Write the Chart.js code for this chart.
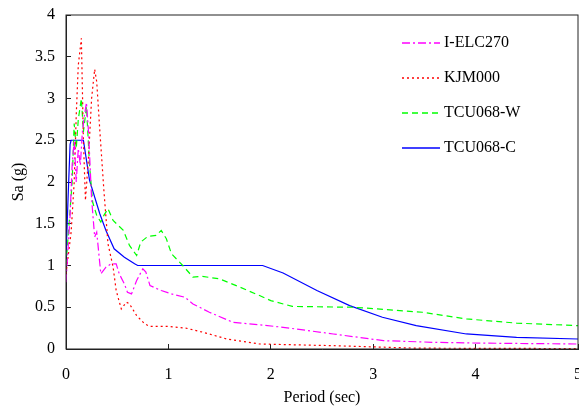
<!DOCTYPE html>
<html>
<head>
<meta charset="utf-8">
<script src="https://cdn.jsdelivr.net/npm/chart.js@4.4.0/dist/chart.umd.min.js"></script>
<style>
  html, body { margin: 0; padding: 0; background: #fff; }
  #wrap { width: 579px; height: 408px; }
</style>
</head>
<body>
<div id="wrap"><canvas id="chart"></canvas></div>
<script>
// Series labels
const seriesNames = ['I-ELC270', 'KJM000', 'TCU068-W', 'TCU068-C'];

// I-ELC270 (period in sec, Sa in g)
const elcT  = [0, 0.02, 0.04, 0.06, 0.08, 0.1, 0.12, 0.14, 0.16, 0.18, 0.2, 0.22, 0.25, 0.28, 0.3, 0.34, 0.39, 0.44, 0.49, 0.52, 0.57, 0.6, 0.64, 0.69, 0.75, 0.78, 0.82, 0.93, 1.03, 1.16, 1.24, 1.4, 1.63, 1.89, 2.12, 2.61, 3.1, 3.59, 4.07, 5];
const elcSa = [0.8, 1.2, 1.6, 2.2, 2.5, 2.0, 2.4, 2.2, 2.6, 2.8, 2.95, 2.6, 1.8, 1.34, 1.4, 0.9, 0.98, 1.02, 1.02, 0.9, 0.78, 0.68, 0.66, 0.82, 0.96, 0.92, 0.76, 0.7, 0.66, 0.62, 0.54, 0.44, 0.32, 0.29, 0.26, 0.18, 0.1, 0.08, 0.07, 0.06];

// KJM000
const kjmT  = [0, 0.03, 0.05, 0.08, 0.1, 0.12, 0.15, 0.17, 0.19, 0.22, 0.25, 0.28, 0.3, 0.33, 0.37, 0.41, 0.46, 0.49, 0.54, 0.59, 0.62, 0.69, 0.77, 0.82, 1.01, 1.17, 1.34, 1.57, 1.89, 2.6, 3.42, 5];
const kjmSa = [0.9, 1.2, 1.4, 2.0, 2.8, 3.4, 3.72, 2.5, 1.78, 2.3, 3.0, 3.35, 3.2, 2.62, 1.9, 1.26, 0.98, 0.7, 0.48, 0.56, 0.54, 0.4, 0.3, 0.27, 0.27, 0.25, 0.2, 0.12, 0.06, 0.04, 0.01, 0.005];

// TCU068-W
const tcuWT  = [0, 0.03, 0.06, 0.08, 0.1, 0.12, 0.15, 0.17, 0.2, 0.23, 0.26, 0.3, 0.34, 0.37, 0.41, 0.46, 0.56, 0.62, 0.69, 0.73, 0.8, 0.88, 0.93, 0.98, 1.03, 1.14, 1.24, 1.33, 1.5, 1.7, 1.89, 2.0, 2.21, 2.8, 3.04, 3.48, 3.91, 4.4, 5];
const tcuWSa = [1.0, 1.5, 2.0, 2.7, 2.4, 2.75, 3.0, 2.6, 2.9, 2.2, 1.76, 1.6, 1.52, 1.6, 1.68, 1.54, 1.42, 1.24, 1.12, 1.28, 1.35, 1.36, 1.42, 1.32, 1.14, 1.0, 0.86, 0.87, 0.84, 0.74, 0.64, 0.58, 0.51, 0.5, 0.48, 0.44, 0.36, 0.31, 0.28];

// TCU068-C
const tcuCT  = [0, 0.02, 0.04, 0.05, 0.17, 0.23, 0.33, 0.39, 0.47, 0.57, 0.67, 0.7, 1.92, 2.12, 2.45, 2.77, 3.09, 3.42, 3.91, 4.4, 5];
const tcuCSa = [1.1, 1.8, 2.45, 2.5, 2.5, 2.02, 1.62, 1.42, 1.2, 1.1, 1.02, 1.0, 1.0, 0.91, 0.7, 0.52, 0.38, 0.28, 0.18, 0.14, 0.12];

// Axis ticks
const xTicks = [0, 1, 2, 3, 4, 5];
const yTicks = [0, 0.5, 1, 1.5, 2, 2.5, 3, 3.5, 4];

const FONT = 'Liberation Serif';

function toPoints(t, sa) {
    return t.map((v, i) => ({ x: v, y: sa[i] }));
}

// Box around the plot, like the original
const frame = {
    id: 'frame',
    afterDraw(chart) {
        const a = chart.chartArea, ctx = chart.ctx;
        ctx.save();
        ctx.strokeStyle = '#222';
        ctx.lineWidth = 1;
        ctx.strokeRect(a.left, a.top, a.right - a.left, a.bottom - a.top);
        ctx.restore();
    }
};

// Legend inside the plot, top right
const insideLegend = {
    id: 'insideLegend',
    afterDraw(chart) {
        const a = chart.chartArea, ctx = chart.ctx;
        const x0 = a.right - 176, y0 = a.top + 28, gap = 35, len = 38;
        ctx.save();
        chart.data.datasets.forEach((ds, i) => {
            const y = y0 + i * gap;
            ctx.strokeStyle = ds.borderColor;
            ctx.lineWidth = 1.5;
            ctx.setLineDash(ds.borderDash || []);
            ctx.beginPath();
            ctx.moveTo(x0, y);
            ctx.lineTo(x0 + len, y);
            ctx.stroke();
            ctx.setLineDash([]);
            ctx.fillStyle = '#000';
            ctx.font = '16px "' + FONT + '"';
            ctx.textBaseline = 'middle';
            ctx.textAlign = 'left';
            ctx.fillText(ds.label, x0 + len + 4, y);
        });
        ctx.restore();
    }
};

const chart = new Chart(document.getElementById('chart'), {
    type: 'line',
    data: {
        datasets: [
            { label: seriesNames[0], data: toPoints(elcT, elcSa), borderColor: '#ff00ff', borderDash: [8, 3, 2, 3] },
            { label: seriesNames[1], data: toPoints(kjmT, kjmSa), borderColor: '#ff0000', borderDash: [2, 3] },
            { label: seriesNames[2], data: toPoints(tcuWT, tcuWSa), borderColor: '#00ff00', borderDash: [6, 4] },
            { label: seriesNames[3], data: toPoints(tcuCT, tcuCSa), borderColor: '#0000ff', borderDash: [] }
        ].map(d => Object.assign(d, { borderWidth: 1.2, pointRadius: 0, tension: 0, fill: false }))
    },
    options: {
        responsive: true,
        maintainAspectRatio: false,
        animation: false,
        layout: { padding: { top: 15, right: 1, left: 0, bottom: 0 } },
        plugins: { legend: { display: false }, tooltip: { enabled: false } },
        scales: {
            x: {
                type: 'linear',
                min: 0, max: 5,
                afterFit(scale) { scale.height = 59; scale.paddingLeft = 0; scale.paddingRight = 0; },
                afterBuildTicks(scale) { scale.ticks = xTicks.map(v => ({ value: v })); },
                ticks: { color: '#000', padding: 21, maxRotation: 0, font: { family: FONT, size: 16 }, callback: v => String(v) },
                grid: { drawOnChartArea: false, drawTicks: true, tickLength: -5, color: '#222' },
                border: { color: '#222', width: 1 },
                title: { display: true, text: 'Period (sec)', color: '#000', font: { family: FONT, size: 16 }, padding: { top: 0, bottom: 1 } }
            },
            y: {
                type: 'linear',
                min: 0, max: 4,
                afterFit(scale) { scale.width = 66; scale.paddingTop = 0; scale.paddingBottom = 0; },
                afterBuildTicks(scale) { scale.ticks = yTicks.map(v => ({ value: v })); },
                ticks: { color: '#000', padding: 16, font: { family: FONT, size: 16 }, callback: v => String(v) },
                grid: { drawOnChartArea: false, drawTicks: true, tickLength: -5, color: '#222' },
                border: { color: '#222', width: 1 },
                title: { display: true, text: 'Sa (g)', color: '#000', font: { family: FONT, size: 16 }, padding: { top: 9, bottom: 0 } }
            }
        }
    },
    plugins: [frame, insideLegend]
});
</script>
</body>
</html>
